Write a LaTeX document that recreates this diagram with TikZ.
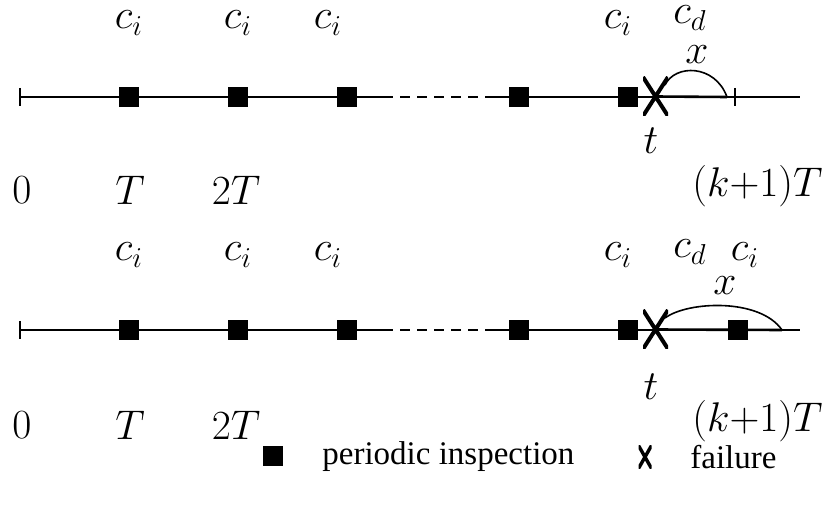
\documentclass[tikz,border=0pt]{standalone}
\usepackage{fontspec}
\newfontfamily\legfont{Liberation Serif}
\begin{document}
\begin{tikzpicture}[x=0.5pt,y=-0.5pt,
  insp/.style={fill=black,minimum size=10pt,inner sep=0pt,draw=none},
  fail/.style={minimum width=12.5pt,minimum height=19.5pt,inner sep=0pt,
    path picture={\draw[line width=2pt]
      (path picture bounding box.north west)--(path picture bounding box.south east)
      (path picture bounding box.north east)--(path picture bounding box.south west);}},
  lbl/.style={font=\fontsize{19.5}{23}\selectfont,inner sep=0pt},
  leg/.style={font=\legfont\fontsize{16.5}{19}\selectfont,inner sep=0pt,anchor=west},
  base/.style={line width=0.8pt},
  thick seg/.style={line width=1.3pt},
  tickmark/.style={line width=0.8pt},
  dsh/.style={line width=0.8pt,dash pattern=on 5pt off 3.5pt}]
\useasboundingbox (0,0) rectangle (826,508);
% ---------- row 1 ----------
\coordinate (s0) at (20,97);
\coordinate (d1) at (383,97);
\coordinate (d2) at (487,97);
\coordinate (e1) at (800,97);
\coordinate (k1) at (735,97);
\coordinate (r1) at (727,97);
\draw[base] (s0) -- (d1);
\draw[dsh] (d1) -- (d2);
\draw[base] (d2) -- (e1);
\draw[tickmark] ([yshift=4.5pt]s0) -- ([yshift=-4.5pt]s0);
\draw[tickmark] ([yshift=4.5pt]k1) -- ([yshift=-4.5pt]k1);
\node[insp] (a1) at (129,97) {};
\node[insp] (a2) at (238,97) {};
\node[insp] (a3) at (347,97) {};
\node[insp] (a4) at (519,97) {};
\node[insp] (a5) at (628,97) {};
\node[fail] (f1) at (655.5,96.5) {};
\draw[thick seg] (f1.center) -- (r1);
\coordinate (q1) at (665,85);
\draw[line width=0.8pt] (q1) .. controls (675,64) and (715,64) .. (r1);
\node[lbl] (ci1) at (129,23) {$c_i$};
\node[lbl] (ci2) at (238,23) {$c_i$};
\node[lbl] (ci3) at (328,23) {$c_i$};
\node[lbl] (ci4) at (618,23) {$c_i$};
\node[lbl] (cd1) at (690,18) {$c_d$};
\node[lbl] (x1) at (697,55) {$x$};
\node[lbl] (t1) at (651,141) {$t$};
\node[lbl] (z1) at (22,190) {$0$};
\node[lbl] (T1) at (130,190) {$T$};
\node[lbl] (TT1) at (236,190) {$2T$};
\node[lbl,anchor=east] (K1) at (823,186) {$(k{+}1)T$};
% ---------- row 2 ----------
\coordinate (s1) at (20,330);
\coordinate (d3) at (383,330);
\coordinate (d4) at (487,330);
\coordinate (e2) at (800,330);
\coordinate (r2) at (782,330);
\draw[base] (s1) -- (d3);
\draw[dsh] (d3) -- (d4);
\draw[base] (d4) -- (e2);
\draw[tickmark] ([yshift=4.5pt]s1) -- ([yshift=-4.5pt]s1);
\node[insp] (b1) at (129,330) {};
\node[insp] (b2) at (238,330) {};
\node[insp] (b3) at (347,330) {};
\node[insp] (b4) at (519,330) {};
\node[insp] (b5) at (628,330) {};
\node[fail] (f2) at (655.5,329.5) {};
\draw[thick seg] (f2.center) -- (r2);
\node[insp] (b6) at (738,330) {};
\coordinate (q2) at (665,318);
\draw[line width=0.8pt] (q2) .. controls (688,301) and (760,298) .. (r2);
\node[lbl] (ci5) at (129,255) {$c_i$};
\node[lbl] (ci6) at (238,255) {$c_i$};
\node[lbl] (ci7) at (328,255) {$c_i$};
\node[lbl] (ci8) at (618,255) {$c_i$};
\node[lbl] (cd2) at (690,252) {$c_d$};
\node[lbl] (ci9) at (745,255) {$c_i$};
\node[lbl] (x2) at (725,286) {$x$};
\node[lbl] (t2) at (651,387) {$t$};
\node[lbl] (z2) at (22,425) {$0$};
\node[lbl] (T2) at (130,425) {$T$};
\node[lbl] (TT2) at (236,425) {$2T$};
\node[lbl,anchor=east] (K2) at (823,421) {$(k{+}1)T$};
% ---------- legend ----------
\node[insp] (lsq) at (273,456) {};
\node[leg] (ltx1) at (322,457) {periodic inspection};
\node[fail,minimum width=6.5pt,minimum height=11.5pt,
  path picture={\draw[line width=1.7pt]
      (path picture bounding box.north west)--(path picture bounding box.south east)
      (path picture bounding box.north east)--(path picture bounding box.south west);}] (lx) at (645,457) {};
\node[leg] (ltx2) at (690,457) {failure};
\end{tikzpicture}
\end{document}
